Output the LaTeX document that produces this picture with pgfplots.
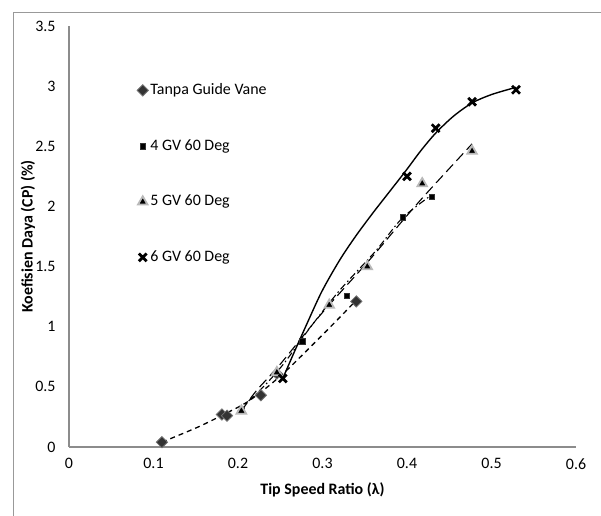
\documentclass[border=0pt]{standalone}
\usepackage{fontspec}
\setmainfont{Carlito}
\usepackage{pgfplots}
\pgfplotsset{compat=1.18}
\pgfplotsset{mylegend/.style={legend image code/.code={\draw[mark repeat=2,mark phase=2,##1] plot coordinates {(0bp,0bp)(5bp,0bp)(10bp,0bp)};}}}
\newcommand{\chartfont}{\fontsize{16}{19}\selectfont}
\begin{document}
\chartfont
\begin{tikzpicture}[x=1bp,y=1bp]
\path[use as bounding box] (0,0) rectangle (601,516);
\draw[gray!80, line width=1pt] (13,0) -- (13,503) -- (601,503);
\begin{axis}[
    at={(69bp,69bp)}, anchor=south west,
    scale only axis, width=507bp, height=421bp,
    xmin=0, xmax=0.6, ymin=0, ymax=3.5,
    axis lines=left,
    axis line style={-, draw=gray!90, line width=1.2pt},
    xtick={0,0.1,0.2,0.3,0.4,0.5,0.6},
    ytick={0,0.5,1,1.5,2,2.5,3,3.5},
    major tick length=0pt,
    /pgf/number format/assume math mode=true,
    tick label style={font=\chartfont},
    xticklabel style={yshift=-6bp},
    yticklabel style={xshift=-8bp},
    xlabel={\bfseries Tip Speed Ratio (λ)},
    ylabel={\bfseries Koefisien Daya (CP) (\%)},
    label style={font=\chartfont},
    xlabel style={at={(axis description cs:0.5,-0.102)}, anchor=center},
    ylabel style={at={(axis description cs:-0.081,0.5)}, anchor=center, rotate=0},
    legend style={draw=none, fill=none, at={(axis description cs:0.128,0.873)},
        anchor=north west, row sep=38.5bp, font=\chartfont},
    legend cell align=left,
]
% trendlines
\addplot[forget plot, black, line width=1.3pt, dash pattern=on 5bp off 4bp, smooth] coordinates {
  (0.11,0.04) (0.122,0.075) (0.154,0.17) (0.183,0.27) (0.21,0.37) (0.235,0.50)
  (0.258,0.64) (0.284,0.82) (0.311,1.01) (0.34,1.22)
};
\addplot[forget plot, black, line width=1.1pt, dash pattern=on 7bp off 3bp on 1.5bp off 3bp, smooth] coordinates {
  (0.20,0.30) (0.23,0.50) (0.255,0.70) (0.284,0.98) (0.32,1.30) (0.363,1.63) (0.394,1.90) (0.43,2.10)
};
\addplot[forget plot, black, line width=1.1pt, dash pattern=on 10bp off 5bp, smooth] coordinates {
  (0.204,0.30) (0.222,0.47) (0.249,0.68) (0.299,1.11) (0.355,1.55) (0.391,1.85) (0.422,2.10) (0.477,2.52)
};
\addplot[forget plot, black, line width=1.4pt, smooth, tension=0.5] coordinates {
  (0.253,0.57) (0.266,0.78) (0.280,1.00) (0.299,1.29) (0.320,1.55) (0.339,1.75) (0.359,1.94)
  (0.379,2.12) (0.399,2.30) (0.416,2.46) (0.434,2.61) (0.455,2.75) (0.477,2.86) (0.50,2.93) (0.529,2.99)
};
% data
\addplot[only marks, mylegend, mark=square*, mark size=4bp, mark options={rotate=45, fill=black!80, draw=gray!90!black, line width=0.8pt}]
  coordinates {(0.11,0.04) (0.181,0.27) (0.187,0.26) (0.227,0.43) (0.246,0.61) (0.34,1.21)};
\addlegendentry{Tanpa Guide Vane}
\addplot[only marks, mylegend, mark=square*, mark size=2.6bp, mark options={fill=black, draw=black!80}]
  coordinates {(0.204,0.31) (0.246,0.61) (0.276,0.88) (0.329,1.26) (0.395,1.91) (0.429,2.08)};
\addlegendentry{4 GV 60 Deg}
\addplot[only marks, mylegend, mark=triangle*, mark size=5.5bp, mark options={fill=black, draw=gray!55, line width=1.8pt}]
  coordinates {(0.204,0.30) (0.246,0.62) (0.308,1.18) (0.353,1.50) (0.418,2.19) (0.477,2.46)};
\addlegendentry{5 GV 60 Deg}
\addplot[only marks, mylegend, mark=x, mark size=5.5bp, mark options={draw=black, line width=2.8pt}]
  coordinates {(0.253,0.57) (0.400,2.25) (0.434,2.65) (0.477,2.87) (0.529,2.97)};
\addlegendentry{6 GV 60 Deg}
\end{axis}
\end{tikzpicture}
\end{document}
